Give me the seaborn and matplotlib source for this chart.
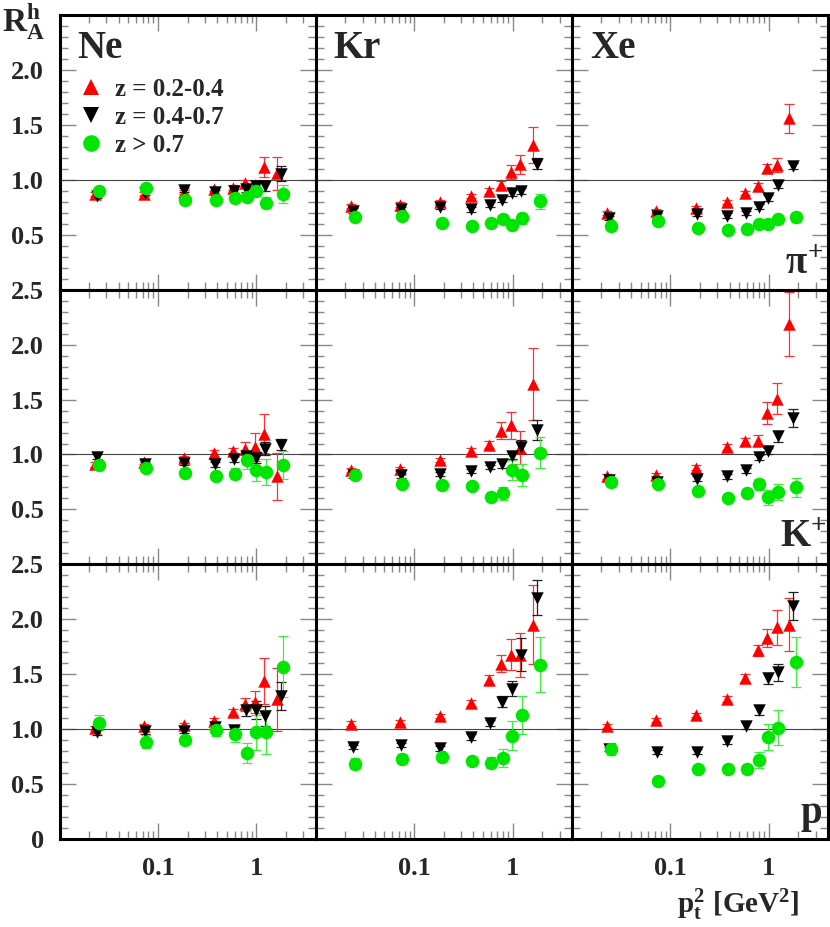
import numpy as np
import pandas as pd
import matplotlib
matplotlib.use("Agg")
import matplotlib.pyplot as plt
import seaborn as sns
from matplotlib.ticker import LogLocator, MultipleLocator, NullFormatter, FixedLocator
from matplotlib.lines import Line2D

# ---------------- data ----------------
nuclei = ["Ne", "Kr", "Xe"]
hadrons = ["pi", "K", "p"]
series = ["z = 0.2-0.4", "z = 0.4-0.7", "z > 0.7"]

x_red = [0.023, 0.072, 0.182, 0.375, 0.58, 0.77, 0.96, 1.2, 1.6]
x_black = [0.024, 0.073, 0.185, 0.38, 0.59, 0.79, 0.98, 1.23, 1.78]
x_green = [0.025, 0.075, 0.19, 0.385, 0.6, 0.8, 0.99, 1.25, 1.88]

# pi+
ne_pi_red = [0.87, 0.87, 0.89, 0.915, 0.93, 0.97, 0.95, 1.12, 1.06]
ne_pi_red_err = [0.02, 0.02, 0.02, 0.02, 0.02, 0.03, 0.04, 0.09, 0.15]
ne_pi_black = [0.85, 0.88, 0.91, 0.885, 0.90, 0.915, 0.945, 0.94, 1.055]
ne_pi_black_err = [0.02, 0.02, 0.02, 0.02, 0.02, 0.03, 0.03, 0.04, 0.07]
ne_pi_green = [0.90, 0.93, 0.82, 0.82, 0.83, 0.84, 0.90, 0.79, 0.87]
ne_pi_green_err = [0.02, 0.02, 0.02, 0.02, 0.02, 0.03, 0.05, 0.05, 0.08]

kr_pi_red = [0.76, 0.775, 0.80, 0.85, 0.90, 0.955, 1.07, 1.14, 1.316]
kr_pi_red_err = [0.02, 0.02, 0.02, 0.02, 0.03, 0.03, 0.065, 0.087, 0.165]
kr_pi_black = [0.72, 0.735, 0.75, 0.73, 0.775, 0.82, 0.88, 0.90, 1.146]
kr_pi_black_err = [0.02, 0.02, 0.02, 0.02, 0.02, 0.02, 0.03, 0.03, 0.05]
kr_pi_green = [0.665, 0.675, 0.61, 0.58, 0.605, 0.647, 0.59, 0.65, 0.805]
kr_pi_green_err = [0.02, 0.02, 0.02, 0.02, 0.02, 0.02, 0.03, 0.05, 0.07]

xe_pi_red = [0.70, 0.714, 0.745, 0.80, 0.88, 0.94, 1.106, 1.137, 1.56]
xe_pi_red_err = [0.02, 0.02, 0.02, 0.02, 0.02, 0.03, 0.04, 0.065, 0.13]
xe_pi_black = [0.65, 0.675, 0.69, 0.675, 0.70, 0.757, 0.836, 0.955, 1.125]
xe_pi_black_err = [0.02, 0.02, 0.02, 0.02, 0.02, 0.02, 0.03, 0.03, 0.03]
xe_pi_green = [0.58, 0.626, 0.56, 0.547, 0.553, 0.595, 0.595, 0.645, 0.66]
xe_pi_green_err = [0.02, 0.02, 0.02, 0.02, 0.02, 0.02, 0.02, 0.03, 0.04]

# K+
ne_k_red = [0.91, 0.934, 0.964, 1.01, 1.033, 1.054, 1.07, 1.19, 0.80]
ne_k_red_err = [0.02, 0.02, 0.02, 0.03, 0.03, 0.06, 0.13, 0.18, 0.21]
ne_k_black = [0.98, 0.91, 0.92, 0.91, 0.958, 0.988, 0.97, 1.054, 1.09]
ne_k_black_err = [0.02, 0.02, 0.02, 0.02, 0.03, 0.04, 0.05, 0.06, 0.05]
ne_k_green = [0.90, 0.88, 0.834, 0.80, 0.825, 0.95, 0.855, 0.843, 0.903]
ne_k_green_err = [0.02, 0.02, 0.02, 0.02, 0.05, 0.08, 0.10, 0.12, 0.13]

kr_k_red = [0.858, 0.867, 0.95, 1.033, 1.09, 1.217, 1.265, 1.063, 1.64]
kr_k_red_err = [0.02, 0.02, 0.02, 0.03, 0.03, 0.075, 0.125, 0.15, 0.33]
kr_k_black = [0.81, 0.81, 0.82, 0.85, 0.885, 0.91, 0.99, 1.07, 1.22]
kr_k_black_err = [0.02, 0.02, 0.02, 0.02, 0.02, 0.03, 0.03, 0.06, 0.09]
kr_k_green = [0.81, 0.73, 0.725, 0.713, 0.61, 0.647, 0.86, 0.816, 1.015]
kr_k_green_err = [0.02, 0.02, 0.02, 0.02, 0.03, 0.06, 0.09, 0.10, 0.14]

xe_k_red = [0.80, 0.81, 0.88, 1.07, 1.12, 1.127, 1.374, 1.507, 2.19]
xe_k_red_err = [0.02, 0.02, 0.02, 0.03, 0.03, 0.05, 0.10, 0.14, 0.29]
xe_k_black = [0.77, 0.753, 0.78, 0.80, 0.855, 0.973, 1.03, 1.166, 1.33]
xe_k_black_err = [0.02, 0.02, 0.02, 0.02, 0.02, 0.02, 0.03, 0.05, 0.08]
xe_k_green = [0.747, 0.73, 0.67, 0.60, 0.653, 0.73, 0.61, 0.66, 0.70]
xe_k_green_err = [0.02, 0.02, 0.02, 0.02, 0.03, 0.05, 0.07, 0.07, 0.09]

# p
ne_p_red = [1.01, 1.025, 1.04, 1.076, 1.155, 1.228, 1.25, 1.44, 1.27]
ne_p_red_err = [0.02, 0.02, 0.02, 0.03, 0.03, 0.06, 0.10, 0.21, 0.29]
ne_p_black = [0.97, 0.98, 0.985, 1.024, 0.994, 1.17, 1.176, 1.12, 1.30]
ne_p_black_err = [0.02, 0.02, 0.02, 0.03, 0.03, 0.05, 0.08, 0.09, 0.13]
ne_p_green = [1.06, 0.885, 0.90, 0.99, 0.955, 0.78, 0.97, 0.975, 1.57]
ne_p_green_err = [0.07, 0.06, 0.03, 0.05, 0.07, 0.09, 0.16, 0.20, 0.28]

kr_p_red = [1.05, 1.064, 1.12, 1.237, 1.45, 1.596, 1.678, 1.678, 1.95]
kr_p_red_err = [0.02, 0.02, 0.02, 0.03, 0.04, 0.08, 0.14, 0.20, 0.36]
kr_p_black = [0.84, 0.857, 0.824, 0.927, 1.055, 1.25, 1.37, 1.678, 2.195]
kr_p_black_err = [0.02, 0.02, 0.02, 0.03, 0.03, 0.05, 0.07, 0.15, 0.16]
kr_p_green = [0.684, 0.73, 0.75, 0.71, 0.696, 0.74, 0.94, 1.13, 1.587]
kr_p_green_err = [0.05, 0.04, 0.03, 0.03, 0.05, 0.08, 0.13, 0.17, 0.25]

xe_p_red = [1.03, 1.085, 1.128, 1.274, 1.465, 1.717, 1.83, 1.927, 1.95]
xe_p_red_err = [0.02, 0.02, 0.02, 0.03, 0.04, 0.05, 0.08, 0.16, 0.24]
xe_p_black = [0.818, 0.79, 0.796, 0.894, 1.033, 1.17, 1.465, 1.517, 2.12]
xe_p_black_err = [0.02, 0.02, 0.02, 0.03, 0.03, 0.04, 0.05, 0.08, 0.13]
xe_p_green = [0.818, 0.53, 0.64, 0.64, 0.635, 0.72, 0.927, 1.015, 1.61]
xe_p_green_err = [0.05, 0.02, 0.02, 0.02, 0.03, 0.07, 0.12, 0.16, 0.23]

panel_data = {
    ("Ne", "pi"): [(ne_pi_red, ne_pi_red_err), (ne_pi_black, ne_pi_black_err), (ne_pi_green, ne_pi_green_err)],
    ("Kr", "pi"): [(kr_pi_red, kr_pi_red_err), (kr_pi_black, kr_pi_black_err), (kr_pi_green, kr_pi_green_err)],
    ("Xe", "pi"): [(xe_pi_red, xe_pi_red_err), (xe_pi_black, xe_pi_black_err), (xe_pi_green, xe_pi_green_err)],
    ("Ne", "K"): [(ne_k_red, ne_k_red_err), (ne_k_black, ne_k_black_err), (ne_k_green, ne_k_green_err)],
    ("Kr", "K"): [(kr_k_red, kr_k_red_err), (kr_k_black, kr_k_black_err), (kr_k_green, kr_k_green_err)],
    ("Xe", "K"): [(xe_k_red, xe_k_red_err), (xe_k_black, xe_k_black_err), (xe_k_green, xe_k_green_err)],
    ("Ne", "p"): [(ne_p_red, ne_p_red_err), (ne_p_black, ne_p_black_err), (ne_p_green, ne_p_green_err)],
    ("Kr", "p"): [(kr_p_red, kr_p_red_err), (kr_p_black, kr_p_black_err), (kr_p_green, kr_p_green_err)],
    ("Xe", "p"): [(xe_p_red, xe_p_red_err), (xe_p_black, xe_p_black_err), (xe_p_green, xe_p_green_err)],
}
x_by_series = [x_red, x_black, x_green]

rows = []
for (nuc, had), lst in panel_data.items():
    for si, (yv, ev) in enumerate(lst):
        for xv, y, e in zip(x_by_series[si], yv, ev):
            rows.append(dict(nucleus=nuc, hadron=had, series=series[si], x=xv, y=y, err=e))
df = pd.DataFrame(rows)

# ---------------- style ----------------
sns.set_style("ticks")
plt.rcParams["font.family"] = ["Liberation Serif", "DejaVu Serif"]
plt.rcParams["font.weight"] = "bold"
plt.rcParams["mathtext.fontset"] = "custom"
plt.rcParams["mathtext.rm"] = "Liberation Serif:bold"
plt.rcParams["mathtext.it"] = "Liberation Serif:bold"
plt.rcParams["mathtext.bf"] = "Liberation Serif:bold"

colors = {series[0]: "#ff0000", series[1]: "#000000", series[2]: "#00e600"}
err_colors = {series[0]: "#ff3030", series[1]: "#222222", series[2]: "#40ee40"}
markers = {series[0]: "^", series[1]: "v", series[2]: "o"}
sizes = {series[0]: 80, series[1]: 80, series[2]: 95}

fig, axes = plt.subplots(3, 3, figsize=(8.3, 9.27), dpi=100)
fig.subplots_adjust(left=0.0717, right=0.9976, top=0.9838, bottom=0.0949, wspace=0, hspace=0)

yticks = [0, 0.5, 1.0, 1.5, 2.0, 2.5]
ylabels_by_row = [
    ["", "0.5", "1.0", "1.5", "2.0", ""],
    ["", "0.5", "1.0", "1.5", "2.0", "2.5"],
    ["0", "0.5", "1.0", "1.5", "2.0", "2.5"],
]
TICKFS = 19

for r, had in enumerate(hadrons):
    for c, nuc in enumerate(nuclei):
        ax = axes[r, c]
        sub = df[(df.nucleus == nuc) & (df.hadron == had)]
        for s in series:
            ss = sub[sub.series == s]
            ax.errorbar(ss.x, ss.y, yerr=ss.err, fmt="none", ecolor=err_colors[s],
                        elinewidth=0.9, capsize=3.5, capthick=0.9, zorder=2)
        for s in series:
            ss = sub[sub.series == s]
            sns.scatterplot(data=ss, x="x", y="y", ax=ax, color=colors[s], marker=markers[s],
                            s=sizes[s], linewidth=0, legend=False, zorder=3)
        ax.axhline(1.0, color="#444444", lw=0.8, zorder=1)
        ax.set_xscale("log")
        ax.set_xlim(0.01, 4.0)
        ax.set_ylim(0, 2.5)
        ax.set_xlabel("")
        ax.set_ylabel("")
        for sp in ax.spines.values():
            sp.set_linewidth(2.2)
            sp.set_color("black")
        ax.xaxis.set_major_locator(FixedLocator([0.01, 0.1, 1]))
        ax.xaxis.set_minor_locator(LogLocator(base=10, subs=np.arange(2, 10), numticks=10))
        ax.xaxis.set_minor_formatter(NullFormatter())
        ax.yaxis.set_major_locator(FixedLocator(yticks))
        ax.yaxis.set_minor_locator(MultipleLocator(0.1))
        ax.tick_params(which="both", direction="in", top=True, right=True, bottom=True, left=True,
                       color="#888888", width=1.0)
        ax.tick_params(which="major", length=11.5)
        ax.tick_params(which="minor", length=5.8)
        if c == 0:
            ax.set_yticklabels(ylabels_by_row[r], fontsize=TICKFS, fontweight="bold")
            ax.tick_params(axis="y", pad=11)
        else:
            ax.tick_params(axis="y", labelleft=False)
        if r == 2:
            ax.set_xticklabels(["", "0.1", "1"], fontsize=TICKFS, fontweight="bold")
            ax.tick_params(axis="x", pad=13)
        else:
            ax.tick_params(axis="x", labelbottom=False)

# panel labels
for c, nuc in enumerate(nuclei):
    axes[0, c].text(0.07, 0.945, nuc, transform=axes[0, c].transAxes, fontsize=28,
                    fontweight="bold", ha="left", va="top")

hadron_txt = [r"$\pi^{+}$", r"$\mathrm{K}^{+}$", r"$\mathrm{p}$"]
hadron_pos = [(0.985, 0.058), (0.995, 0.065), (0.977, 0.058)]
for r in range(3):
    axes[r, 2].text(hadron_pos[r][0], hadron_pos[r][1], hadron_txt[r], transform=axes[r, 2].transAxes,
                    fontsize=28, ha="right", va="baseline")

# legend
handles = [Line2D([], [], ls="", marker=markers[s], color=colors[s], markersize=12, markeredgewidth=0)
           for s in series]
axes[0, 0].legend(handles, series, loc="upper left", bbox_to_anchor=(0.075, 0.77), frameon=False,
                  prop={"family": "Liberation Serif", "weight": "bold", "size": 18},
                  handlelength=1.0, handletextpad=0.45, labelspacing=0.2, borderaxespad=0,
                  borderpad=0)

fig.text(0.002, 1 - 32 / 927, r"$\mathbf{R_A^h}$", fontsize=24, ha="left", va="baseline")
fig.text(800 / 830, 14 / 927, r"$\mathbf{p_t^2\ [GeV^2]}$", fontsize=21, ha="right", va="baseline")

fig.savefig("out.png", dpi=100)
